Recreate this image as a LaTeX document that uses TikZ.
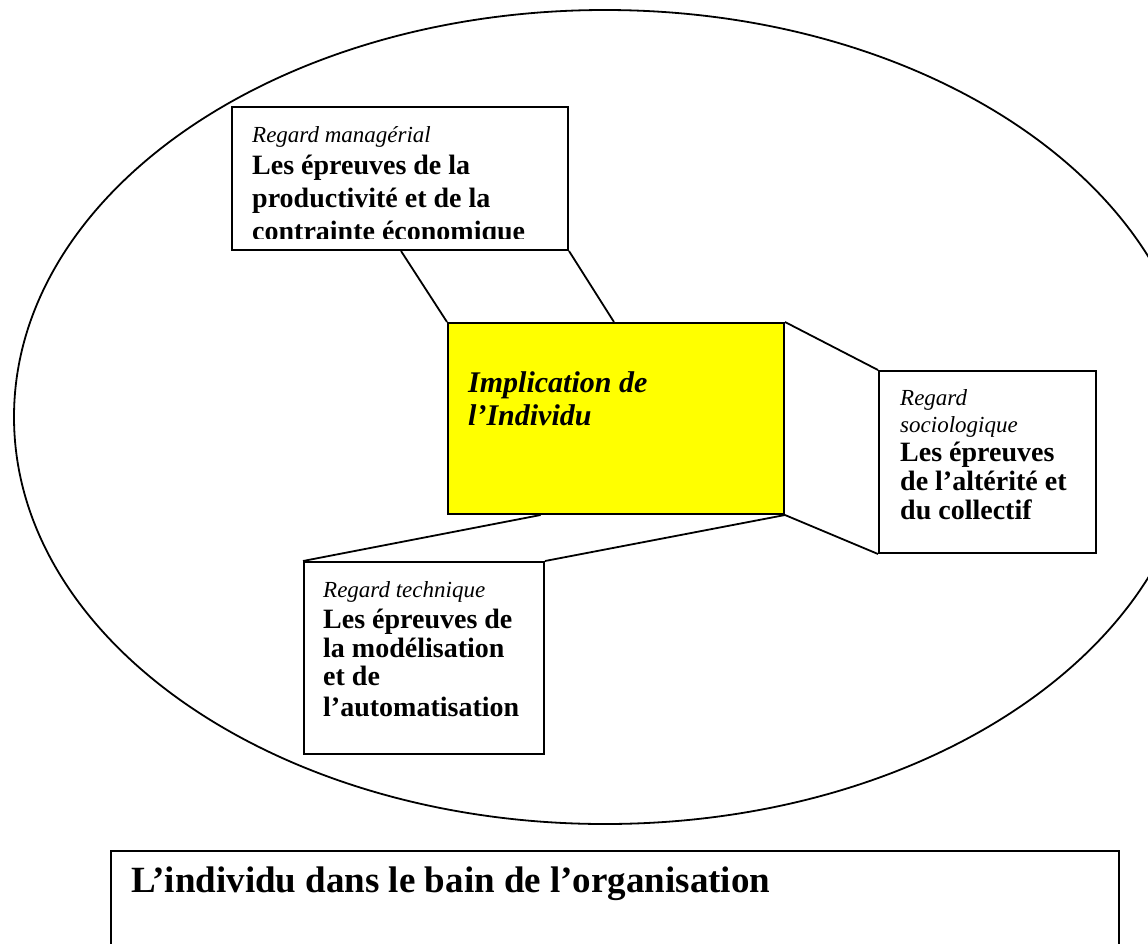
\documentclass[tikz,border=0pt]{standalone}
\usepackage{fontspec}
\setmainfont{Liberation Serif}
\usetikzlibrary{calc}
\definecolor{pureyellow}{RGB}{255,255,0}
\begin{document}
\begin{tikzpicture}[x=1pt,y=-1pt,
  box/.style={draw=black,line width=2pt,fill=white,inner sep=0pt,anchor=north west},
  ybox/.style={box,fill=pureyellow},
  conn/.style={draw=black,line width=1.8pt},
  itl/.style={anchor=base west,inner sep=0pt,font=\fontsize{23}{28}\selectfont\itshape},
  bfl/.style={anchor=base west,inner sep=0pt,font=\fontsize{28}{30}\selectfont\bfseries},
  bil/.style={anchor=base west,inner sep=0pt,font=\fontsize{30}{33}\selectfont\bfseries\itshape},
  big/.style={anchor=base west,inner sep=0pt,font=\fontsize{37}{40}\selectfont\bfseries}]
\useasboundingbox (0,0) rectangle (1148,943);
\clip (0,0) rectangle (1148,943);
\fill[white] (0,0) rectangle (1148,943);
% organisation ellipse
\draw[line width=1.8pt] (605,417) ellipse [x radius=591, y radius=407];
% boxes
\node[box,minimum width=336pt,minimum height=143pt] (man) at (231,106) {};
\node[ybox,minimum width=336pt,minimum height=191pt] (ind) at (447,322) {};
\node[box,minimum width=217pt,minimum height=182pt] (soc) at (878,370) {};
\node[box,minimum width=240pt,minimum height=192pt] (tec) at (303,561) {};
\node[box,minimum width=1008pt,minimum height=200pt] (org) at (110,850) {};
% connectors
\draw[conn] ($(man.south west)!0.503!(man.south east)$) -- (ind.north west);
\draw[conn] (man.south east) -- ($(ind.north west)!0.494!(ind.north east)$);
\draw[conn] (ind.north east) -- (soc.north west);
\draw[conn] (ind.south east) -- (soc.south west);
\draw[conn] ($(ind.south west)!0.277!(ind.south east)$) -- (tec.north west);
\draw[conn] (ind.south east) -- (tec.north east);
% texts: managerial
\node[itl] (manA) at (252,142) {Regard managérial};
\node[bfl] (manB) at (252,174) {Les épreuves de la};
\node[bfl] (manC) at (252,207) {productivité et de la};
\begin{scope}
\clip (231,106) rectangle (567,238);
\node[bfl] (manD) at (252,240) {contrainte économique};
\end{scope}
% individual
\node[bil] (indA) at (468,392) {Implication de};
\node[bil] (indB) at (468,425) {l’Individu};
% sociological
\node[itl] (socA) at (900,405) {Regard};
\node[itl] (socB) at (900,432) {sociologique};
\node[bfl] (socC) at (900,461) {Les épreuves};
\node[bfl] (socD) at (900,490) {de l’altérité et};
\node[bfl] (socE) at (900,519) {du collectif};
% technical
\node[itl] (tecA) at (323,597) {Regard technique};
\node[bfl] (tecB) at (323,628) {Les épreuves de};
\node[bfl] (tecC) at (323,657) {la modélisation};
\node[bfl] (tecD) at (323,685) {et de};
\node[bfl] (tecE) at (323,716) {l’automatisation};
% organisation caption
\node[big] (orgA) at (131,892) {L’individu dans le bain de l’organisation};
\end{tikzpicture}
\end{document}
